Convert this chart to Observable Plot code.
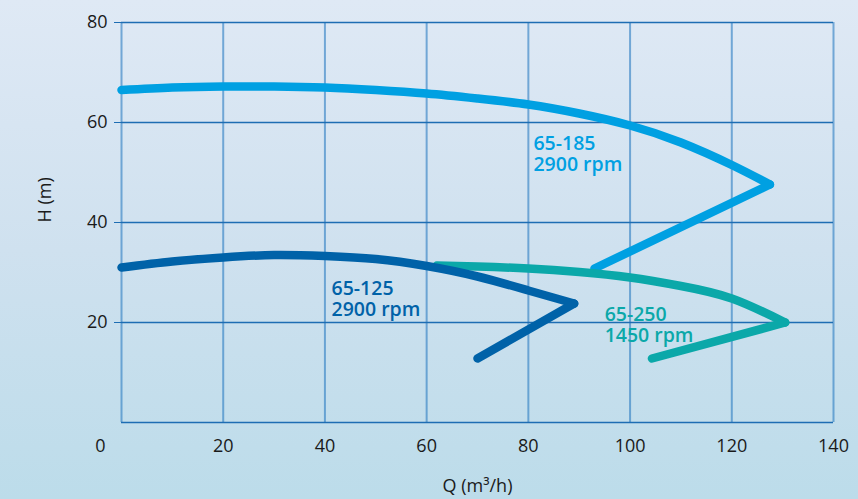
<!DOCTYPE html>
<html>
<head>
<meta charset="utf-8">
<script src="https://cdn.jsdelivr.net/npm/d3@7"></script>
<script src="https://cdn.jsdelivr.net/npm/@observablehq/plot@0.6"></script>
<style>
  html, body { margin: 0; padding: 0; }
  body { width: 858px; height: 499px; overflow: hidden;
         background: linear-gradient(to bottom, #dfe9f5 0%, #cfe1ef 50%, #bcdcea 100%); }
  #chart svg { display: block; }
</style>
</head>
<body>
<div id="chart"></div>
<script>
// Axis ticks
const xTicks = [0, 20, 40, 60, 80, 100, 120, 140];
const yTicks = [0, 20, 40, 60, 80];
const xTitle = "Q (m³/h)";
const yTitle = "H (m)";

// Pump 65-185 @ 2900 rpm (light blue)
const q185 = [0, 10, 20, 30, 40, 50, 60, 70, 80, 90, 100, 110, 120, 127.5];
const h185 = [66.5, 67.0, 67.2, 67.2, 67.0, 66.5, 65.8, 64.8, 63.6, 61.8, 59.4, 56.0, 51.5, 47.6];
const q185Back = [127.5, 93];
const h185Back = [47.6, 30.8];

// Pump 65-125 @ 2900 rpm (dark blue)
const q125 = [0, 10, 20, 30, 40, 50, 60, 70, 80, 89];
const h125 = [31.0, 32.2, 33.0, 33.5, 33.3, 32.7, 31.3, 29.2, 26.4, 23.8];
const q125Back = [89, 70];
const h125Back = [23.8, 12.8];

// Pump 65-250 @ 1450 rpm (teal)
const q250 = [62, 70, 80, 90, 100, 110, 120, 130.5];
const h250 = [31.4, 31.2, 30.8, 30.1, 29.0, 27.3, 24.8, 20.0];
const q250Back = [130.5, 104.3];
const h250Back = [20.0, 12.8];

// Curve labels (anchored at top-left, in data units)
const labelText = ["65-185\n2900 rpm", "65-125\n2900 rpm", "65-250\n1450 rpm"];
const labelQ = [81, 41.3, 95];
const labelH = [57.7, 28.7, 23.5];
const colors = ["#00a0e2", "#0062a8", "#0ba8a9"];

const toRows = (qs, hs) => qs.map((q, i) => ({q, h: hs[i]}));
const labels = labelText.map((t, i) => ({t, q: labelQ[i], h: labelH[i], c: colors[i]}));

const gridH = "#1d6db3";
const gridV = "#2a7cc2";

function pump(qs, hs, qb, hb, color) {
  const common = {x: "q", y: "h", stroke: color, strokeWidth: 8.5,
                  strokeLinecap: "round", strokeLinejoin: "round"};
  return [
    Plot.line(toRows(qs, hs), {...common, curve: "natural"}),
    Plot.line(toRows(qb, hb), {...common, curve: "linear"})
  ];
}

const chart = Plot.plot({
  width: 858,
  height: 499,
  marginLeft: 121,
  marginRight: 25,
  marginTop: 22,
  marginBottom: 77,
  style: {background: "transparent", fontFamily: "'Open Sans', sans-serif", fontSize: "18px", color: "#1a1a1a"},
  x: {domain: [0, 140], axis: null},
  y: {domain: [0, 80], axis: null},
  marks: [
    // vertical grid lines
    Plot.ruleX(xTicks, {y1: 0, y2: 80, stroke: gridV, strokeWidth: 2, strokeOpacity: 0.6}),
    // horizontal grid lines
    Plot.ruleY(yTicks, {x1: 0, x2: 140, stroke: gridH, strokeWidth: 1.3}),
    // y axis ticks + labels
    Plot.axisY(yTicks.filter(d => d > 0), {anchor: "left", tickSize: 7, tickPadding: 7,
      stroke: gridH, fill: "#1a1a1a", fontSize: 18, label: null}),
    // x axis labels
    Plot.axisX(xTicks.filter(d => d > 0), {anchor: "bottom", tickSize: 0, tickPadding: 17,
      fill: "#1a1a1a", fontSize: 18, label: null}),
    // origin label, offset to the corner
    Plot.text(xTicks.filter(d => d === 0), {x: d => d, frameAnchor: "bottom", dx: -21, dy: 17,
      lineAnchor: "top", fill: "#1a1a1a", fontSize: 18}),
    // axis titles
    Plot.text([xTitle], {frameAnchor: "bottom", dy: 69, fontSize: 18, fill: "#1a1a1a"}),
    Plot.text([yTitle], {frameAnchor: "left", dx: -76, rotate: -90, fontSize: 18, fill: "#1a1a1a"}),
    // pump curves
    ...pump(q185, h185, q185Back, h185Back, colors[0]),
    ...pump(q250, h250, q250Back, h250Back, colors[2]),
    ...pump(q125, h125, q125Back, h125Back, colors[1]),
    // labels
    Plot.text(labels, {x: "q", y: "h", text: "t", fill: "c", textAnchor: "start",
      lineAnchor: "top", lineHeight: 1.12, fontSize: 19.5, fontWeight: 600})
  ]
});
document.getElementById("chart").appendChild(chart);
</script>
</body>
</html>
